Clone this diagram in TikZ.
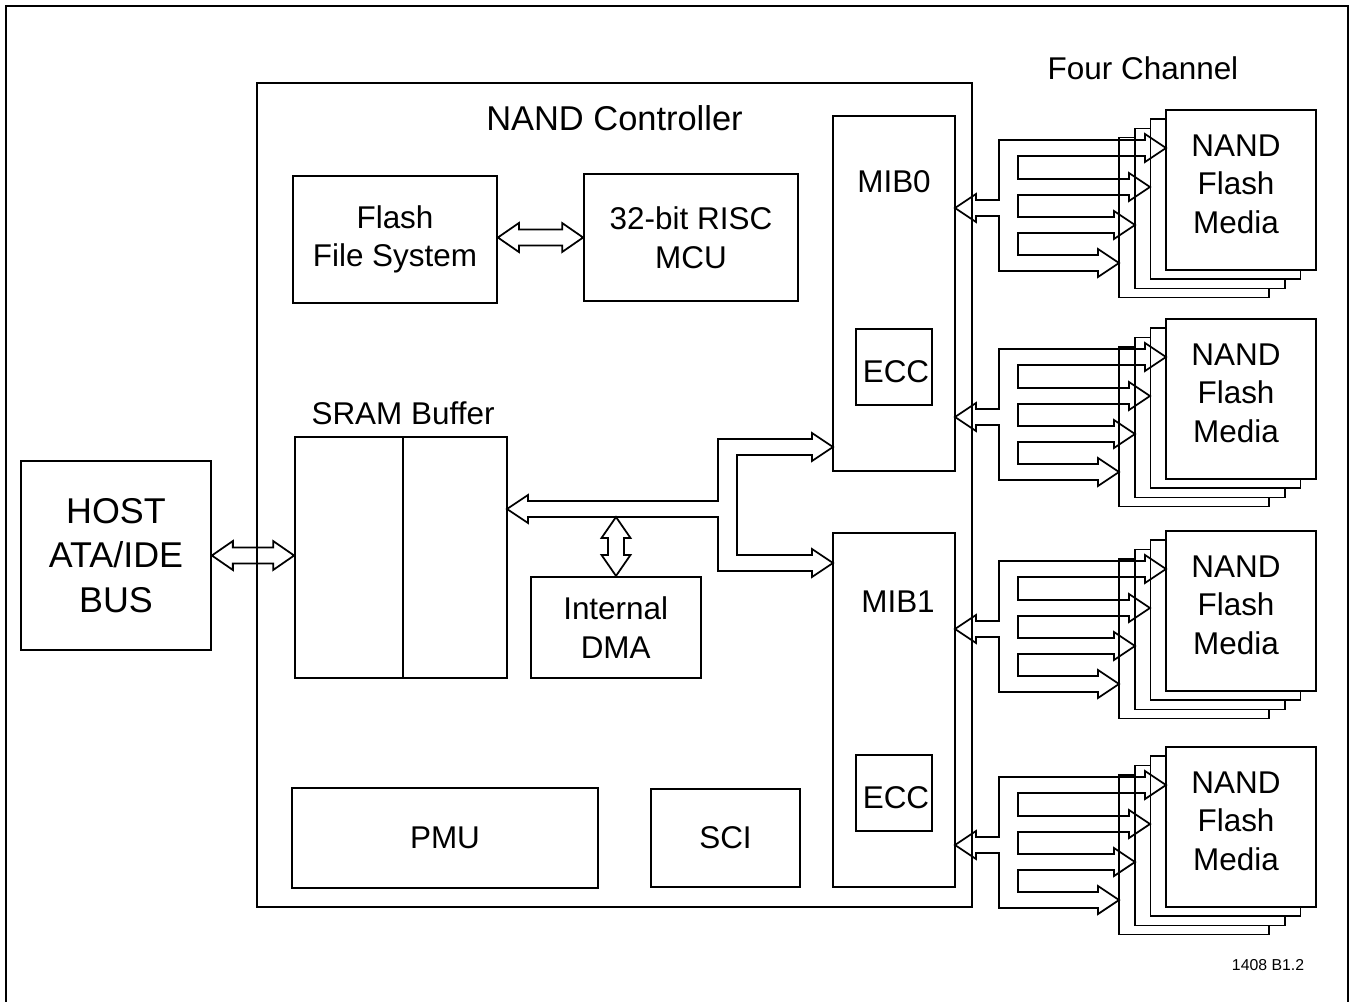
\documentclass[tikz,border=0pt]{standalone}
\usepackage{fontspec}
\setmainfont{Liberation Sans}
\usetikzlibrary{calc}
\newcommand{\txt}{\fontsize{17.9}{22}\selectfont}
\newcommand{\ttlfont}{\fontsize{19.6}{24}\selectfont}
\newcommand{\hostfont}{\fontsize{20.4}{25.2}\selectfont}
\newcommand{\tagfont}{\fontsize{9}{11}\selectfont}
\begin{document}
\begin{tikzpicture}[x=0.02cm,y=-0.02cm]
\tikzstyle{blk}=[draw, line width=1pt, fill=white, align=center, inner sep=0pt, font=\txt]
\tikzstyle{layer}=[draw, line width=1pt, fill=white, align=center, inner sep=0pt, minimum width=3cm, minimum height=3.2cm, font=\txt]

\def\ahl{0.42cm} % head length
\def\ahw{0.29cm} % head half width
\def\asw{0.16cm} % shaft half width

\tikzset{
 sz/.style 2 args={minimum width=#1*0.02cm, minimum height=#2*0.02cm},
 harrow/.style={line width=1pt, to path={let \p1=(\tikztostart), \p2=(\tikztotarget) in
  -- (\x1+\ahl,\y1+\ahw) -- (\x1+\ahl,\y1+\asw) -- (\x2-\ahl,\y1+\asw) -- (\x2-\ahl,\y1+\ahw) -- (\x2,\y1)
  -- (\x2-\ahl,\y1-\ahw) -- (\x2-\ahl,\y1-\asw) -- (\x1+\ahl,\y1-\asw) -- (\x1+\ahl,\y1-\ahw) -- cycle}},
 varrow/.style={line width=1pt, to path={let \p1=(\tikztostart), \p2=(\tikztotarget) in
  -- (\x1+\ahw,\y1-\ahl) -- (\x1+\asw,\y1-\ahl) -- (\x1+\asw,\y2+\ahl) -- (\x1+\ahw,\y2+\ahl) -- (\x1,\y2)
  -- (\x1-\ahw,\y2+\ahl) -- (\x1-\asw,\y2+\ahl) -- (\x1-\asw,\y1-\ahl) -- (\x1-\ahw,\y1-\ahl) -- cycle}}
}

\useasboundingbox (0,0) rectangle (1351,1001);
\draw[line width=1.4pt] (6,1005) -- (6,6) -- (1348,6) -- (1348,1005); % outer frame

% controller
\node[blk, sz={715}{824}] (nc) at (614.5,495) {};
\node[font=\ttlfont] (nctitle) at ([yshift=-0.72cm]nc.north) {NAND Controller};

\node[blk, sz={204}{127}] (ffs) at (395,239.5) {Flash\\File System};
\node[blk, sz={214}{127}] (mcu) at (691,237.5) {32-bit RISC\\MCU};
\draw[harrow] (ffs.east |- mcu.west) to (mcu.west);

\node[blk, sz={212}{241}] (sram) at (401,557.5) {};
\draw[line width=1pt] (sram.north) ++(2,0) -- ($(sram.south)+(2,0)$); % bank divider
\node[font=\txt] (sramlbl) at (403,413) {SRAM Buffer};

\node[blk, sz={170}{101}] (dma) at (615.7,627.3) {Internal\\DMA};
\node[blk, sz={306}{100}] (pmu) at (445,838) {PMU};
\node[blk, sz={149}{98}] (sci) at (725.5,838) {SCI};

\node[blk, sz={122}{355}] (mib0) at (894,293.5) {};
\node[font=\txt] (mib0lbl) at ([yshift=-1.34cm]mib0.north) {MIB0};
\node[blk, sz={76}{76}] (ecc0) at (894,367) {};
\node[font=\txt] (ecc0lbl) at ([xshift=0.04cm,yshift=-0.1cm]ecc0.center) {ECC};
\node[blk, sz={122}{354}] (mib1) at (894,709.8) {};
\node[font=\txt] (mib1lbl) at ([xshift=0.08cm,yshift=-1.4cm]mib1.north) {MIB1};
\node[blk, sz={76}{76}] (ecc1) at (894,793) {};
\node[font=\txt] (ecc1lbl) at ([xshift=0.04cm,yshift=-0.1cm]ecc1.center) {ECC};

% host
\node[blk, sz={190}{189}, font=\hostfont] (host) at (116,555.5) {HOST\\ATA/IDE\\BUS};
\draw[harrow] (host.east) to (sram.west);

% internal bus to both MIBs
\draw[line width=1pt] (507,509) -- (528,495) -- (528,501) -- (718,501) -- (718,439) -- (812,439) -- (812,433)
 -- (833,447) -- (812,461) -- (812,455) -- (737,455) -- (737,555) -- (812,555) -- (812,549)
 -- (833,563) -- (812,577) -- (812,571) -- (718,571) -- (718,517) -- (528,517) -- (528,523) -- cycle;
\coordinate (busbot) at (616,517);
\draw[varrow] (busbot) to (busbot |- dma.north);

% four channels, four dies each
\foreach \yt/\nm in {110/a,319/b,531/c,747/d}{
 \foreach \k in {3,2,1}
  \node[layer] (nand\nm\k) at ({1241-15.6*\k},{\yt+80+9.2*\k}) {};
 \node[layer] (nand\nm) at (1241,\yt+80) {};
 \node[font=\txt, align=center] (nandlbl\nm) at ([xshift=-0.1cm,yshift=0.12cm]nand\nm.center) {NAND\\Flash\\Media};
 \begin{scope}[shift={(0,\yt)}]
 \draw[line width=1pt] (955,98) -- (976,84) -- (976,90) -- (999,90) -- (999,30)
  -- (1145,30) -- (1145,24) -- (1166,38) -- (1145,52) -- (1145,46) -- (1018,46) -- (1018,69)
  -- (1129,69) -- (1129,63) -- (1150,77) -- (1129,91) -- (1129,85) -- (1018,85) -- (1018,107)
  -- (1114,107) -- (1114,101) -- (1135,115) -- (1114,129) -- (1114,123) -- (1018,123) -- (1018,145)
  -- (1098,145) -- (1098,139) -- (1119,153) -- (1098,167) -- (1098,161) -- (999,161)
  -- (999,106) -- (976,106) -- (976,112) -- cycle;
 \end{scope}
}

\node[font=\txt] (chan) at (1143,68) {Four Channel};
\node[font=\tagfont] (tag) at (1268,965) {1408 B1.2};

\end{tikzpicture}
\end{document}
